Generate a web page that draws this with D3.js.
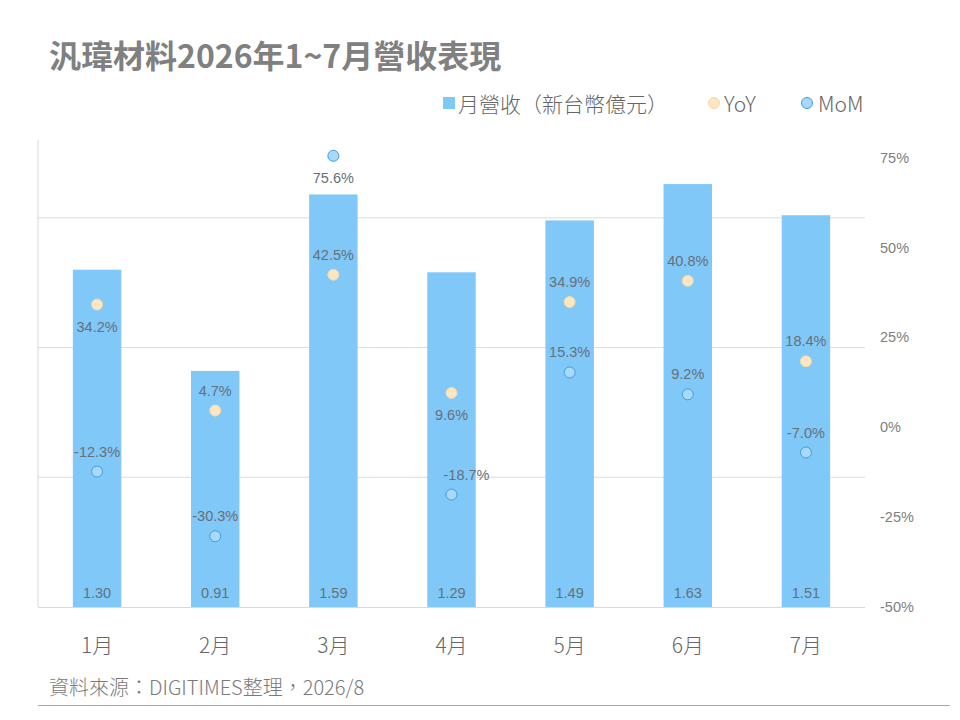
<!DOCTYPE html>
<html>
<head>
<meta charset="utf-8">
<script src="https://cdn.jsdelivr.net/npm/d3@7"></script>
<style>
  body { margin: 0; background: #fff; }
  svg { display: block; font-family: "Liberation Sans", Arial, "Noto Sans CJK TC", sans-serif; }
  .cjk { font-family: "Noto Sans CJK TC", "Liberation Sans", sans-serif; }
</style>
</head>
<body>
<div id="chart"></div>
<script>
// chart data
const months = ["1月", "2月", "3月", "4月", "5月", "6月", "7月"];
const revenue = [1.30, 0.91, 1.59, 1.29, 1.49, 1.63, 1.51];
const yoy = [34.2, 4.7, 42.5, 9.6, 34.9, 40.8, 18.4];
const mom = [-12.3, -30.3, 75.6, -18.7, 15.3, 9.2, -7.0];
const rightTicks = [-50, -25, 0, 25, 50, 75];
const leftGrid = [0.5, 1.0, 1.5];

// label placement (style, not data)
const yoyLabelSide = ["below", "above", "above", "below", "above", "above", "above"];
const momLabelSide = ["above", "above", "below", "above", "above", "above", "above"];
const momLabelShift = [0, 0, 0, 15, 0, 0, 0];

const W = 960, H = 720;
const plot = {left: 38, right: 865, top: 140, bottom: 607};

const svg = d3.select("#chart").append("svg")
    .attr("width", W)
    .attr("height", H);

// scales
const x = d3.scaleBand()
    .domain(months)
    .range([plot.left, plot.right])
    .paddingInner(0.59)
    .paddingOuter(0.295);

const yL = d3.scaleLinear()
    .domain([0, 1.8])
    .range([plot.bottom, plot.top]);

const yR = d3.scaleLinear()
    .domain([-50, 80])
    .range([plot.bottom, plot.top]);

// gridlines
svg.append("g")
    .selectAll("line")
    .data(leftGrid)
    .join("line")
    .attr("x1", plot.left)
    .attr("x2", plot.right)
    .attr("y1", d => yL(d))
    .attr("y2", d => yL(d))
    .attr("stroke", "#dcdcdc")
    .attr("stroke-width", 1);

// axis lines
svg.append("line")
    .attr("x1", plot.left).attr("x2", plot.left)
    .attr("y1", plot.top).attr("y2", plot.bottom)
    .attr("stroke", "#d9d9d9");
svg.append("line")
    .attr("x1", plot.left).attr("x2", plot.right)
    .attr("y1", plot.bottom + 0.5).attr("y2", plot.bottom + 0.5)
    .attr("stroke", "#d9d9d9");

// bars
const cx = d => x(d) + x.bandwidth() / 2;

svg.append("g")
    .selectAll("rect")
    .data(months)
    .join("rect")
    .attr("x", d => x(d))
    .attr("width", x.bandwidth())
    .attr("y", (d, i) => yL(revenue[i]))
    .attr("height", (d, i) => plot.bottom - yL(revenue[i]))
    .attr("fill", "#7fc8f8");

// bar value labels
svg.append("g")
    .selectAll("text")
    .data(months)
    .join("text")
    .attr("x", d => cx(d))
    .attr("y", plot.bottom - 9)
    .attr("text-anchor", "middle")
    .attr("font-size", 14.5)
    .attr("fill", "#66707a")
    .text((d, i) => revenue[i].toFixed(2));

// right axis
const rightAxis = svg.append("g")
    .attr("transform", "translate(" + (plot.right + 15) + ",0)")
    .call(d3.axisRight(yR).tickValues(rightTicks).tickSize(0).tickFormat(d => d + "%"));
rightAxis.select(".domain").remove();
rightAxis.selectAll("text")
    .attr("font-size", 14.5)
    .attr("fill", "#808080")
    .attr("font-family", "Liberation Sans, Arial, sans-serif")
    .attr("x", 0)
    .attr("dy", "0.3em");

// x axis labels
const xAxis = svg.append("g")
    .attr("transform", "translate(0," + plot.bottom + ")")
    .call(d3.axisBottom(x).tickSize(0));
xAxis.select(".domain").remove();
xAxis.selectAll("text")
    .attr("class", "cjk")
    .attr("font-size", 21)
    .attr("font-weight", 300)
    .attr("fill", "#666")
    .attr("dy", 0)
    .attr("y", 46);

// series markers + labels
function drawSeries(values, sides, shifts, fill, stroke) {
    const g = svg.append("g");
    g.selectAll("circle")
        .data(months)
        .join("circle")
        .attr("cx", d => cx(d))
        .attr("cy", (d, i) => yR(values[i]))
        .attr("r", 5.5)
        .attr("fill", fill)
        .attr("stroke", stroke)
        .attr("stroke-width", 1);
    g.selectAll("text")
        .data(months)
        .join("text")
        .attr("x", (d, i) => cx(d) + shifts[i])
        .attr("y", (d, i) => yR(values[i]) + (sides[i] === "above" ? -15 : 27))
        .attr("text-anchor", "middle")
        .attr("font-size", 14.5)
        .attr("fill", "#66707a")
        .text((d, i) => values[i].toFixed(1) + "%");
}

drawSeries(yoy, yoyLabelSide, [0, 0, 0, 0, 0, 0, 0], "#fde6c2", "#f3d9a9");
drawSeries(mom, momLabelSide, momLabelShift, "#a8d8fa", "#3f9de0");

// title
svg.append("text")
    .attr("class", "cjk")
    .attr("x", 49)
    .attr("y", 68)
    .attr("font-size", 32)
    .attr("font-weight", "bold")
    .attr("fill", "#808080")
    .text("汎瑋材料2026年1~7月營收表現");

// legend
const legend = svg.append("g").attr("class", "cjk")
    .attr("font-weight", 300)
    .attr("font-size", 21)
    .attr("fill", "#666");
legend.append("rect")
    .attr("x", 443).attr("y", 97)
    .attr("width", 12).attr("height", 12)
    .attr("fill", "#7fc8f8");
legend.append("text")
    .attr("x", 458).attr("y", 112)
    .text("月營收（新台幣億元）");
legend.append("circle")
    .attr("cx", 714).attr("cy", 103).attr("r", 5.5)
    .attr("fill", "#fde6c2").attr("stroke", "#f3d9a9");
legend.append("text")
    .attr("x", 724).attr("y", 112)
    .text("YoY");
legend.append("circle")
    .attr("cx", 807).attr("cy", 103).attr("r", 5.5)
    .attr("fill", "#a8d8fa").attr("stroke", "#3f9de0");
legend.append("text")
    .attr("x", 818).attr("y", 112)
    .text("MoM");

// source note
svg.append("text")
    .attr("class", "cjk")
    .attr("x", 49)
    .attr("y", 695)
    .attr("font-size", 20)
    .attr("font-weight", 300)
    .attr("fill", "#7a7a7a")
    .text("資料來源：DIGITIMES整理，2026/8");

svg.append("line")
    .attr("x1", 38).attr("x2", 950)
    .attr("y1", 705.5).attr("y2", 705.5)
    .attr("stroke", "#a6a6a6")
    .attr("stroke-width", 1);
</script>
</body>
</html>
